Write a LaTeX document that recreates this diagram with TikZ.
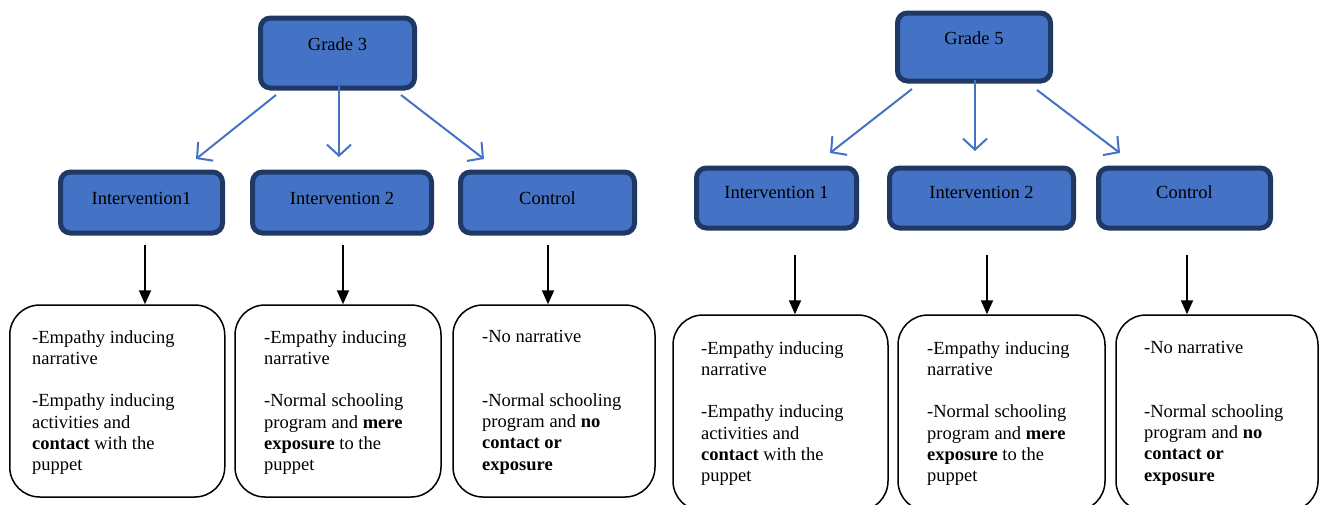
\documentclass[tikz,border=0pt]{standalone}
\usepackage{fontspec}
\setmainfont{LiberationSerif}[Extension=.ttf, UprightFont=*-Regular, BoldFont=*-Bold, ItalicFont=*-Italic, BoldItalicFont=*-BoldItalic]
\usetikzlibrary{arrows.meta}
\definecolor{boxblue}{HTML}{4472C4}
\definecolor{boxnavy}{HTML}{1F3864}
\begin{document}
\begin{tikzpicture}[x=1pt,y=-1pt,
  bluebox/.style={draw=boxnavy, fill=boxblue, line width=5pt, rounded corners=10pt,
    inner sep=0pt, align=center, anchor=north, font=\fontsize{18.5}{21.3}\selectfont},
  whitebox/.style={draw=black, line width=1.5pt, rounded corners=30pt, inner sep=0pt},
  bodytext/.style={anchor=north west, inner sep=0pt, align=left, font=\fontsize{18.5}{21.3}\selectfont},
  bluearrow/.style={draw=boxblue, line width=2pt, -{Straight Barb[length=11pt,width=24pt]}},
  blackarrow/.style={draw=black, line width=2pt, -{Triangle[length=14pt,width=12pt]}}
]
\useasboundingbox (0,0) rectangle (1320,504);
\clip (0,0) rectangle (1320,504);
\fill[white] (0,0) rectangle (1320,504);

% ---------- Grade 3 ----------
\node[bluebox, minimum width=154pt, text height=32pt, text depth=38pt] (g3) at (337.5,15.5) {Grade 3};
\node[bluebox, minimum width=162pt, text height=32pt, text depth=29pt] (li1) at (141.5,169.5) {Intervention1};
\node[bluebox, minimum width=179pt, text height=32pt, text depth=29pt] (li2) at (342,169.5) {Intervention 2};
\node[bluebox, minimum width=174pt, text height=32pt, text depth=29pt] (lc) at (547.5,169.5) {Control};

\coordinate (la1s) at (276,95);  \coordinate (la1e) at (196,159);
\coordinate (la2s) at (339,86);  \coordinate (la2e) at (339,157);
\coordinate (la3s) at (401,95);  \coordinate (la3e) at (484,159);
\draw[bluearrow] (la1s) -- (la1e);
\draw[bluearrow] (la2s) -- (la2e);
\draw[bluearrow] (la3s) -- (la3e);

\node[whitebox, minimum width=215pt, minimum height=192pt] (lb1) at (117.25,401) {};
\node[whitebox, minimum width=206pt, minimum height=192pt] (lb2) at (338,401) {};
\node[whitebox, minimum width=202pt, minimum height=192pt] (lb3) at (554,401) {};

\coordinate (lk1) at (145,245); \coordinate (lk2) at (343,245); \coordinate (lk3) at (548,245);
\draw[blackarrow] (lk1) -- (lk1 |- lb1.north);
\draw[blackarrow] (lk2) -- (lk2 |- lb2.north);
\draw[blackarrow] (lk3) -- (lk3 |- lb3.north);

\node[bodytext] (lt1) at (32,330) {-Empathy inducing\\ narrative\\[21.3pt] -Empathy inducing\\ activities and\\ \textbf{contact} with the\\ puppet};
\node[bodytext] (lt2) at (264,330) {-Empathy inducing\\ narrative\\[21.3pt] -Normal schooling\\ program and \textbf{mere}\\ \textbf{exposure} to the\\ puppet};
\node[bodytext] (lt3) at (482,330) {-No narrative\\[42.6pt] -Normal schooling\\ program and \textbf{no}\\ \textbf{contact or}\\ \textbf{exposure}};

% ---------- Grade 5 ----------
\node[bluebox, minimum width=153pt, text height=31pt, text depth=37pt] (g5) at (974,10.5) {Grade 5};
\node[bluebox, minimum width=160pt, text height=30pt, text depth=30pt] (ri1) at (776.5,165.5) {Intervention 1};
\node[bluebox, minimum width=184pt, text height=30pt, text depth=30pt] (ri2) at (981.5,165.5) {Intervention 2};
\node[bluebox, minimum width=172pt, text height=30pt, text depth=30pt] (rc) at (1184.5,165.5) {Control};

\coordinate (ra1s) at (912,89);  \coordinate (ra1e) at (830,153);
\coordinate (ra2s) at (975,80);  \coordinate (ra2e) at (975,151);
\coordinate (ra3s) at (1037,90); \coordinate (ra3e) at (1120,153);
\draw[bluearrow] (ra1s) -- (ra1e);
\draw[bluearrow] (ra2s) -- (ra2e);
\draw[bluearrow] (ra3s) -- (ra3e);

\node[whitebox, minimum width=215pt, minimum height=196pt] (rb1) at (780.5,413) {};
\node[whitebox, minimum width=207pt, minimum height=196pt] (rb2) at (1001.5,413) {};
\node[whitebox, minimum width=202pt, minimum height=196pt] (rb3) at (1217,413) {};

\coordinate (rk1) at (795,255); \coordinate (rk2) at (987,255); \coordinate (rk3) at (1187,255);
\draw[blackarrow] (rk1) -- (rk1 |- rb1.north);
\draw[blackarrow] (rk2) -- (rk2 |- rb2.north);
\draw[blackarrow] (rk3) -- (rk3 |- rb3.north);

\node[bodytext] (rt1) at (701,341) {-Empathy inducing\\ narrative\\[21.3pt] -Empathy inducing\\ activities and\\ \textbf{contact} with the\\ puppet};
\node[bodytext] (rt2) at (927,341) {-Empathy inducing\\ narrative\\[21.3pt] -Normal schooling\\ program and \textbf{mere}\\ \textbf{exposure} to the\\ puppet};
\node[bodytext] (rt3) at (1144,341) {-No narrative\\[42.6pt] -Normal schooling\\ program and \textbf{no}\\ \textbf{contact or}\\ \textbf{exposure}};
\end{tikzpicture}
\end{document}
